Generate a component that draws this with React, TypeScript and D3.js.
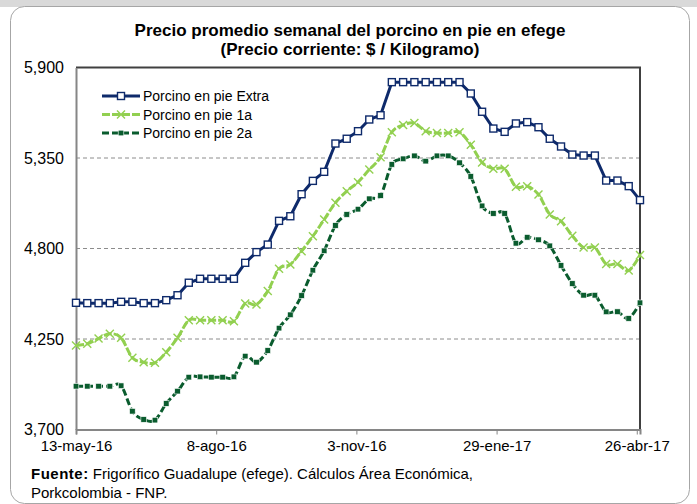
import * as d3 from 'd3';
import { useEffect, useRef } from 'react';

// weekly dates (Friday)
const dates = [
  '2016-05-13', '2016-05-20', '2016-05-27', '2016-06-03', '2016-06-10', '2016-06-17', '2016-06-24',
  '2016-07-01', '2016-07-08', '2016-07-15', '2016-07-22', '2016-07-29', '2016-08-05', '2016-08-12',
  '2016-08-19', '2016-08-26', '2016-09-02', '2016-09-09', '2016-09-16', '2016-09-23', '2016-09-30',
  '2016-10-07', '2016-10-14', '2016-10-21', '2016-10-28', '2016-11-04', '2016-11-11', '2016-11-18',
  '2016-11-25', '2016-12-02', '2016-12-09', '2016-12-16', '2016-12-23', '2016-12-30', '2017-01-06',
  '2017-01-13', '2017-01-20', '2017-01-27', '2017-02-03', '2017-02-10', '2017-02-17', '2017-02-24',
  '2017-03-03', '2017-03-10', '2017-03-17', '2017-03-24', '2017-03-31', '2017-04-07', '2017-04-14',
  '2017-04-21', '2017-04-28'
];

const extra = [
  4470, 4468, 4468, 4468, 4476, 4476, 4468, 4468, 4486, 4516, 4592, 4616, 4616, 4616, 4616, 4713,
  4778, 4824, 4968, 4996, 5130, 5211, 5266, 5438, 5467, 5513, 5584, 5610, 5811, 5811, 5811, 5811,
  5811, 5811, 5811, 5742, 5631, 5529, 5509, 5560, 5568, 5537, 5467, 5420, 5371, 5365, 5365, 5213,
  5213, 5179, 5094
];

const primera = [
  4211, 4221, 4253, 4282, 4257, 4136, 4109, 4105, 4170, 4257, 4364, 4364, 4364, 4364, 4358, 4466,
  4460, 4541, 4677, 4703, 4784, 4875, 4976, 5078, 5148, 5203, 5280, 5355, 5507, 5550, 5562, 5513,
  5502, 5502, 5507, 5430, 5323, 5285, 5284, 5175, 5179, 5128, 5007, 4966, 4877, 4806, 4806, 4706,
  4706, 4666, 4760
];

const segunda = [
  3963, 3963, 3963, 3963, 3966, 3811, 3761, 3757, 3858, 3933, 4018, 4020, 4018, 4018, 4020, 4146,
  4109, 4180, 4316, 4397, 4514, 4668, 4786, 4940, 5007, 5039, 5102, 5122, 5311, 5345, 5363, 5331,
  5363, 5363, 5321, 5238, 5059, 5013, 5013, 4832, 4868, 4853, 4816, 4697, 4587, 4516, 4516, 4415,
  4416, 4375, 4470
];

const yTicks = [3700, 4250, 4800, 5350, 5900];
const xTickDates = ['2016-05-13', '2016-08-08', '2016-11-03', '2017-01-29', '2017-04-26'];
const xTickLabels = ['13-may-16', '8-ago-16', '3-nov-16', '29-ene-17', '26-abr-17'];
const seriesNames = ['Porcino en pie Extra', 'Porcino en pie 1a', 'Porcino en pie 2a'];

const FONT = '"Liberation Sans", Arial, sans-serif';
const BLUE = '#0e2a6b';
const LIGHT = '#92d050';
const DARK = '#0a5c2e';

const App = () => {
  const ref = useRef<SVGSVGElement>(null);

  useEffect(() => {
    document.body.style.margin = '0';
    const width = 697;
    const height = 504;
    const margin = { top: 67.5, right: 57, bottom: 74.5, left: 76 };
    const chartWidth = width - margin.left - margin.right;
    const chartHeight = height - margin.top - margin.bottom;

    const svg = d3.select(ref.current);
    svg.selectAll('*').remove();
    svg.attr('width', width).attr('height', height);

    // background + card
    svg.append('rect').attr('width', width).attr('height', height).attr('fill', '#fff');
    svg.append('rect').attr('width', width).attr('height', 7).attr('fill', '#d9d9d9');
    svg.append('rect')
      .attr('x', 10.5).attr('y', 6.5)
      .attr('width', 679).attr('height', 497)
      .attr('rx', 14)
      .attr('fill', '#fff')
      .attr('stroke', '#a6a6a6')
      .attr('stroke-width', 1);

    // title
    const title = svg.append('text')
      .attr('text-anchor', 'middle')
      .attr('font-family', FONT)
      .attr('font-weight', 'bold')
      .attr('font-size', '17px')
      .attr('fill', '#000');
    title.append('tspan').attr('x', 350).attr('y', 36)
      .text('Precio promedio semanal del porcino en pie en efege');
    title.append('tspan').attr('x', 350).attr('y', 55)
      .text('(Precio corriente: $ / Kilogramo)');

    const parse = d3.timeParse('%Y-%m-%d');
    const xDates = dates.map(d => parse(d) as Date);

    const x = d3.scaleTime()
      .domain(d3.extent(xDates) as [Date, Date])
      .range([0, chartWidth]);
    const y = d3.scaleLinear()
      .domain([3700, 5900])
      .range([chartHeight, 0]);

    const chart = svg.append('g')
      .attr('transform', `translate(${margin.left},${margin.top})`);

    // gridlines
    chart.append('g')
      .selectAll('line')
      .data(yTicks.slice(1, -1))
      .enter()
      .append('line')
      .attr('x1', 0).attr('x2', chartWidth)
      .attr('y1', d => y(d)).attr('y2', d => y(d))
      .attr('stroke', '#8c8c8c')
      .attr('stroke-width', 1)
      .attr('stroke-dasharray', '4,3');

    // plot border (top / right)
    chart.append('path')
      .attr('d', `M0,0H${chartWidth}V${chartHeight}`)
      .attr('fill', 'none')
      .attr('stroke', '#404040')
      .attr('stroke-width', 2);

    // axes
    const xAxis = chart.append('g')
      .attr('transform', `translate(0,${chartHeight})`)
      .call(
        d3.axisBottom(x)
          .tickValues(xTickDates.map(d => parse(d) as Date))
          .tickFormat((_, i) => xTickLabels[i])
          .tickSizeOuter(0)
          .tickSize(5)
          .tickPadding(6)
      );
    xAxis.select('.domain').attr('stroke', '#868686').attr('stroke-width', 2);
    xAxis.selectAll('.tick line').attr('stroke', '#868686').attr('stroke-width', 1);
    xAxis.selectAll('text')
      .attr('font-family', FONT)
      .attr('font-size', '15px')
      .attr('fill', '#000');

    const yAxis = chart.append('g')
      .call(
        d3.axisLeft(y)
          .tickValues(yTicks)
          .tickFormat(d3.format(','))
          .tickSize(0)
          .tickPadding(12)
      );
    yAxis.select('.domain').attr('stroke', '#868686').attr('stroke-width', 2);
    yAxis.selectAll('text')
      .attr('font-family', FONT)
      .attr('font-size', '16px')
      .attr('fill', '#000');

    // series
    const series = [
      { name: seriesNames[0], values: extra, color: BLUE, dash: null, curve: d3.curveLinear, marker: 'box' },
      { name: seriesNames[1], values: primera, color: LIGHT, dash: '8,2', curve: d3.curveCatmullRom.alpha(0), marker: 'x' },
      { name: seriesNames[2], values: segunda, color: DARK, dash: '7,3', curve: d3.curveCatmullRom.alpha(0), marker: 'sq' },
    ];

    const drawMarker = (g: any, kind: string, color: string) => {
      if (kind === 'box') {
        g.append('rect')
          .attr('x', -3.5).attr('y', -3.5)
          .attr('width', 7).attr('height', 7)
          .attr('fill', '#fff')
          .attr('stroke', color)
          .attr('stroke-width', 1.4);
      } else if (kind === 'x') {
        g.append('path')
          .attr('d', 'M-4,-4L4,4M-4,4L4,-4')
          .attr('stroke', color)
          .attr('stroke-width', 1.4)
          .attr('fill', 'none');
      } else {
        g.append('rect')
          .attr('x', -2.8).attr('y', -2.8)
          .attr('width', 5.6).attr('height', 5.6)
          .attr('fill', color)
          .attr('stroke', '#fff')
          .attr('stroke-width', 0.6);
      }
    };

    // draw lower series first
    series.slice().reverse().forEach(s => {
      const line = d3.line<number>()
        .x((_, i) => x(xDates[i]))
        .y(d => y(d))
        .curve(s.curve);

      chart.append('path')
        .datum(s.values)
        .attr('fill', 'none')
        .attr('stroke', s.color)
        .attr('stroke-width', 3)
        .attr('stroke-dasharray', s.dash)
        .attr('d', line);

      chart.append('g')
        .selectAll('g')
        .data(s.values)
        .enter()
        .append('g')
        .attr('transform', (d, i) => `translate(${x(xDates[i])},${y(d)})`)
        .each(function () {
          drawMarker(d3.select(this), s.marker, s.color);
        });
    });

    // legend
    const legend = svg.append('g').attr('transform', 'translate(102,96)');
    series.forEach((s, i) => {
      const row = legend.append('g').attr('transform', `translate(0,${i * 18.5})`);
      row.append('line')
        .attr('x1', 0).attr('x2', 38)
        .attr('stroke', s.color)
        .attr('stroke-width', 3)
        .attr('stroke-dasharray', s.dash);
      drawMarker(row.append('g').attr('transform', 'translate(19,0)'), s.marker, s.color);
      row.append('text')
        .attr('x', 41)
        .attr('y', 5)
        .attr('font-family', FONT)
        .attr('font-size', '14px')
        .attr('fill', '#000')
        .text(s.name);
    });

    // source note
    const note = svg.append('text')
      .attr('font-family', FONT)
      .attr('font-size', '15px')
      .attr('fill', '#000');
    const l1 = note.append('tspan').attr('x', 31).attr('y', 479);
    l1.append('tspan').attr('font-weight', 'bold').attr('letter-spacing', '0.5').text('Fuente:');
    l1.append('tspan').text(' Frigorífico Guadalupe (efege). Cálculos Área Económica,');
    note.append('tspan').attr('x', 31).attr('y', 498).text('Porkcolombia  - FNP.');
  }, []);

  return (
    <div style={{ width: 697, height: 504, overflow: 'hidden' }}>
      <svg ref={ref} style={{ display: 'block' }}></svg>
    </div>
  );
};

export default App;
